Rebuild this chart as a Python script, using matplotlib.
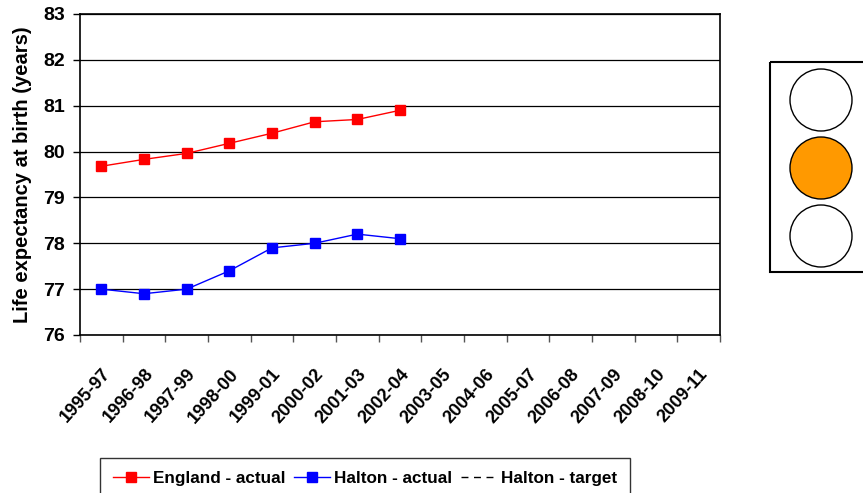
import matplotlib.pyplot as plt
import matplotlib.patches as patches
import matplotlib.transforms as mtransforms
from matplotlib.lines import Line2D

plt.rcParams["font.family"] = ["Liberation Sans", "DejaVu Sans"]
plt.rcParams["font.weight"] = "bold"

periods = ["1995-97", "1996-98", "1997-99", "1998-00", "1999-01", "2000-02",
           "2001-03", "2002-04", "2003-05", "2004-06", "2005-07", "2006-08",
           "2007-09", "2008-10", "2009-11"]
england_actual = [79.68, 79.83, 79.96, 80.18, 80.40, 80.65, 80.70, 80.90]
halton_actual = [77.0, 76.9, 77.0, 77.4, 77.9, 78.0, 78.2, 78.1]
y_ticks = [76, 77, 78, 79, 80, 81, 82, 83]

fig = plt.figure(figsize=(8.63, 4.93), dpi=100)
ax = fig.add_axes([80 / 863, 158 / 493, 640 / 863, 321 / 493])

ax.plot(range(len(england_actual)), england_actual, color="#FF0000", lw=1,
        marker="s", ms=6.5, label="England - actual")
ax.plot(range(len(halton_actual)), halton_actual, color="#0000FF", lw=1,
        marker="s", ms=6.5, label="Halton - actual")

ax.set_xlim(-0.5, len(periods) - 0.5)
ax.set_ylim(y_ticks[0], y_ticks[-1])
ax.set_yticks(y_ticks)
ax.set_yticklabels([str(v) for v in y_ticks], fontsize=14, fontweight="bold")
ax.set_xticks(range(len(periods)))
ax.set_xticklabels(periods, rotation=48, ha="right", rotation_mode="anchor",
                   fontsize=13, fontweight="bold")
shift = mtransforms.ScaledTranslation(-8 / 72, 0, fig.dpi_scale_trans)
for lbl in ax.get_xticklabels():
    lbl.set_transform(lbl.get_transform() + shift)
ax.set_xticks([i + 0.5 for i in range(-1, len(periods))], minor=True)
ax.tick_params(axis="x", which="major", length=0, pad=22)
ax.tick_params(axis="x", which="minor", length=5, width=1, color="#555555")
ax.tick_params(axis="y", length=5, width=1, pad=6)
ax.grid(True, axis="y", color="black", lw=0.9)
ax.set_axisbelow(True)
for s in ax.spines.values():
    s.set_linewidth(1.2)
    s.set_color("black")
ax.set_ylabel("Life expectancy at birth (years)", fontsize=14.5,
              fontweight="bold", labelpad=8)

handles = [
    Line2D([], [], color="#FF0000", lw=1, marker="s", ms=6.5),
    Line2D([], [], color="#0000FF", lw=1, marker="s", ms=6.5),
    Line2D([], [], color="black", lw=1, ls=(0, (5, 4))),
]
leg = fig.legend(handles, ["England - actual", "Halton - actual", "Halton - target"],
                 loc="upper left", bbox_to_anchor=(100 / 863, 35 / 493), ncol=3,
                 frameon=True, fancybox=False, edgecolor="black",
                 handlelength=2.1, handletextpad=0.25, columnspacing=0.5,
                 borderpad=0.75, borderaxespad=0, prop={"weight": "bold", "size": 12.3})
leg.get_frame().set_linewidth(1)

# traffic light panel
ov = fig.add_axes([0, 0, 1, 1], facecolor="none")
ov.set_xlim(0, 863)
ov.set_ylim(493, 0)
ov.axis("off")
ov.add_patch(patches.Rectangle((770, 62), 110, 210, fill=False, ec="black", lw=1.5))
for cy, fc in [(100, "white"), (168, "#FF9900"), (236, "white")]:
    ov.add_patch(patches.Circle((821, cy), 31, fc=fc, ec="black", lw=1))

fig.savefig("out.png", dpi=100)
